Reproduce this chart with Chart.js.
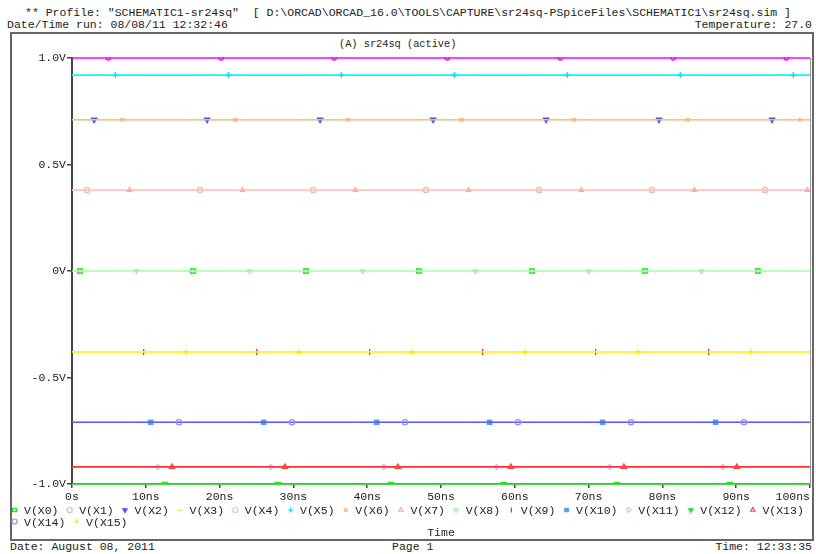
<!DOCTYPE html>
<html>
<head>
<meta charset="utf-8">
<script src="https://cdn.jsdelivr.net/npm/chart.js@4/dist/chart.umd.min.js"></script>
<style>
    body { margin: 0; background: #fff; }
    #page { position: relative; width: 816px; height: 554px; overflow: hidden;
        font-family: 'Liberation Mono', monospace; font-size: 11.5px; color: #222; }
    .txt { position: absolute; white-space: pre; line-height: 12px; }
    #frame { position: absolute; left: 10px; top: 32px; width: 800px; height: 505px;
        border: 2px solid #666; }
    canvas { position: absolute; left: 0; top: 0; }
</style>
</head>
<body>
<div id="page">
    <div class="txt" style="left:25px;top:7px">** Profile: "SCHEMATIC1-sr24sq"  [ D:\ORCAD\ORCAD_16.0\TOOLS\CAPTURE\sr24sq-PSpiceFiles\SCHEMATIC1\sr24sq.sim ]</div>
    <div class="txt" style="left:7px;top:19px">Date/Time run: 08/08/11 12:32:46</div>
    <div class="txt" style="right:4px;top:19px">Temperature: 27.0</div>
    <div id="frame"></div>
    <div class="txt" style="left:339px;top:38px;font-size:10.3px">(A) sr24sq (active)</div>
    <div class="txt" style="left:10px;top:541px">Date: August 08, 2011</div>
    <div class="txt" style="left:392px;top:541px">Page 1</div>
    <div class="txt" style="right:4px;top:541px">Time: 12:33:35</div>
    <canvas id="sim" width="816" height="554"></canvas>
</div>
<script>
// traces V(X0)..V(X15), flat levels (volts)
const traceNames = ['V(X0)', 'V(X1)', 'V(X2)', 'V(X3)', 'V(X4)', 'V(X5)', 'V(X6)', 'V(X7)',
    'V(X8)', 'V(X9)', 'V(X10)', 'V(X11)', 'V(X12)', 'V(X13)', 'V(X14)', 'V(X15)']
const traceLevels = [0, 0.38, 0.71, 0.92, 1.0, 0.92, 0.71, 0.38,
    0, -0.38, -0.71, -0.92, -1.0, -0.92, -0.71, -0.38]
// first marker of each trace (ns), markers then repeat every markerStep ns
const markerFirst = [1.08, 2.04, 3.0, 3.96, 4.92, 5.87, 6.83, 7.79,
    8.75, 9.71, 10.66, 11.62, 12.58, 13.54, 14.5, 15.45]
const markerStep = 15.31
const timeRange = [0, 100]
const xTicks = [0, 10, 20, 30, 40, 50, 60, 70, 80, 90, 100]
const yTicks = [-1.0, -0.5, 0, 0.5, 1.0]

const lineColors = ['#00ff00', '#ffc0c0', '#4848ff', '#ffff00', '#ff00ff', '#00ffff', '#ffc658', '#ffc4c4',
    '#b0ffb0', '#ff0090', '#40a0ff', '#d0b8ff', '#33ee33', '#ff3030', '#5c5cf4', '#ffff00']
const markColors = ['#00e000', '#ffb0b0', '#5050ff', '#f0f000', '#ff00ff', '#00e0ff', '#ffb070', '#ffa8a8',
    '#a0f0a0', '#ff1090', '#50a0ff', '#d0c0ff', '#30e030', '#ff4040', '#9090ff', '#f0f000']
const legendColors = ['#00e000', '#ffb0b0', '#5050ff', '#f0f000', '#ffb0ff', '#00e0ff', '#ffb070', '#ffa8a8',
    '#a0f0a0', '#ff1090', '#50a0ff', '#d0c0ff', '#30e030', '#ff4040', '#9090ff', '#f0f000']
const markStyles = ['rect', 'circle', 'triangle', 'line', 'circle', 'cross', 'crossRot', 'triangle',
    'triangle', 'line', 'rect', 'rectRot', 'triangle', 'triangle', 'circle', 'cross']
const markRotation = [0, 0, 180, 0, 0, 0, 0, 0, 180, 90, 0, 0, 180, 0, 0, 0]
const markFilled = [false, false, true, false, false, false, false, false,
    false, false, true, false, true, false, false, false]
const markSize = [3, 2.6, 3, 3, 2, 3, 2.6, 2.4, 2.4, 3, 3, 2.6, 3, 3, 2.6, 3]

const mono = 'Liberation Mono'

function traceData(i) {
    const pts = [{ x: timeRange[0], y: traceLevels[i] }]
    for (let t = markerFirst[i]; t < timeRange[1]; t += markerStep) {
        pts.push({ x: t, y: traceLevels[i] })
    }
    pts.push({ x: timeRange[1], y: traceLevels[i] })
    return pts
}

// a trace whose level is repeated by a later trace is drawn underneath it
function covered(i) {
    return traceLevels.slice(i + 1).includes(traceLevels[i])
}

const datasets = traceNames.map((name, i) => ({
    label: name,
    data: traceData(i),
    borderColor: lineColors[i],
    borderWidth: covered(i) ? 0.4 : 1.7,
    pointStyle: markStyles[i],
    rotation: markRotation[i],
    pointBorderColor: markColors[i],
    pointBackgroundColor: markFilled[i] ? markColors[i] : 'rgba(0,0,0,0)',
    pointBorderWidth: 1.3,
    pointRadius: (c) => (c.dataIndex === 0 || c.dataIndex === c.dataset.data.length - 1) ? 0 : markSize[i],
    order: 16 - i,
    clip: 1,
}))

// PSpice style legend: two rows between tick labels and the "Time" title
const traceLegend = {
    id: 'traceLegend',
    afterDraw(chart) {
        const ctx = chart.ctx
        ctx.save()
        ctx.font = '11.5px ' + mono
        ctx.textBaseline = 'middle'
        let x = 14.5, y = 510
        traceNames.forEach((name, i) => {
            const w = ctx.measureText(name).width
            if (x + 9.5 + w > 809) {
                x = 14.5
                y += 11.5
            }
            ctx.strokeStyle = legendColors[i]
            ctx.fillStyle = markFilled[i] ? legendColors[i] : 'rgba(0,0,0,0)'
            ctx.lineWidth = 1.2
            Chart.helpers.drawPoint(ctx, {
                pointStyle: markStyles[i], rotation: markRotation[i], radius: 2.5, borderWidth: 1.2,
            }, x, y)
            ctx.fillStyle = '#222'
            ctx.fillText(name, x + 9.5, y + 1)
            x += 9.5 + w + 11.2
        })
        ctx.restore()
    },
}

new Chart(document.getElementById('sim'), {
    type: 'line',
    data: { datasets },
    options: {
        responsive: false,
        animation: false,
        layout: { autoPadding: false, padding: { left: 0, right: 0, top: 58, bottom: 14 } },
        plugins: { legend: { display: false }, tooltip: { enabled: false } },
        scales: {
            x: {
                type: 'linear',
                min: timeRange[0],
                max: timeRange[1],
                afterBuildTicks: (s) => { s.ticks = xTicks.map((v) => ({ value: v })) },
                afterFit: (s) => {
                    s.height = 56
                    s.paddingLeft = 0
                    s.paddingRight = 0
                },
                ticks: {
                    padding: 2,
                    maxRotation: 0,
                    color: '#222',
                    font: { family: mono, size: 11.5 },
                    // last label ends at the axis end, as in the PSpice plot
                    callback: (v) => v === 0 ? '0s' : v === timeRange[1] ? v + 'ns     ' : v + 'ns',
                },
                grid: { drawOnChartArea: false, tickLength: 4, color: '#444', lineWidth: 1.5 },
                border: { color: '#444', width: 1.5 },
                title: { display: true, text: 'Time', color: '#222', font: { family: mono, size: 11.5 },
                    padding: { top: 0, bottom: 0 } },
            },
            y: {
                min: -1,
                max: 1,
                afterBuildTicks: (s) => { s.ticks = yTicks.map((v) => ({ value: v })) },
                afterFit: (s) => {
                    s.width = 72
                    s.paddingTop = 0
                    s.paddingBottom = 0
                },
                ticks: {
                    padding: 1,
                    color: '#222',
                    font: { family: mono, size: 11.5 },
                    callback: (v) => v === 0 ? '0V' : v.toFixed(1) + 'V',
                },
                grid: { drawOnChartArea: false, tickLength: 5, color: '#444', lineWidth: 1.5 },
                border: { color: '#444', width: 2 },
            },
            yr: {
                position: 'right',
                min: -1,
                max: 1,
                afterFit: (s) => { s.width = 6 },
                ticks: { display: false },
                grid: { drawOnChartArea: false, drawTicks: false },
                border: { color: '#999', width: 1 },
            },
        },
    },
    plugins: [traceLegend],
})
</script>
</body>
</html>
